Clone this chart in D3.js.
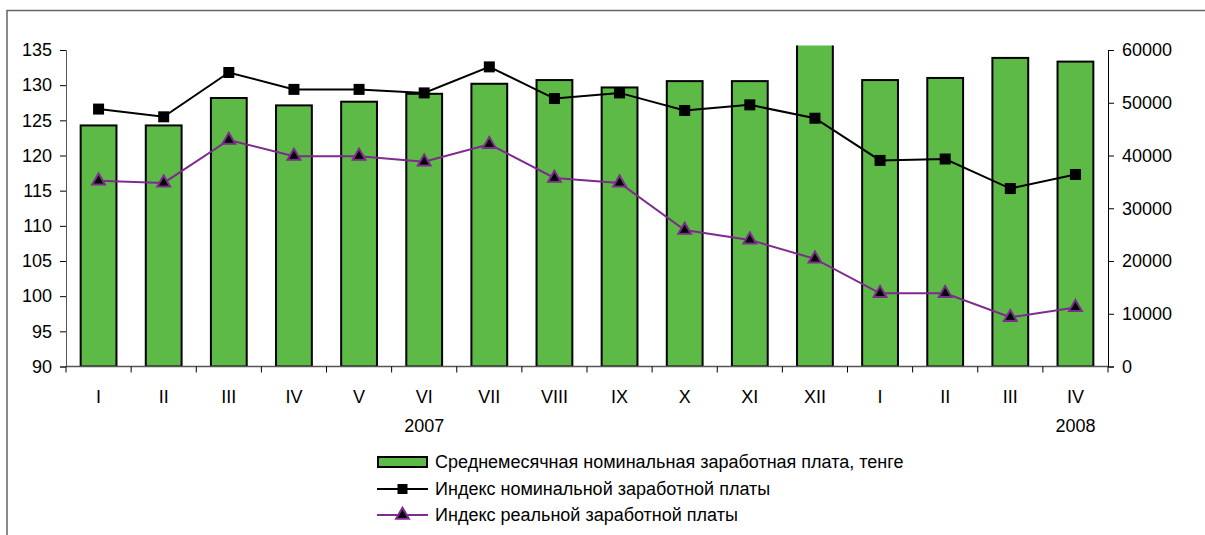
<!DOCTYPE html>
<html><head><meta charset="utf-8">
<script src="https://cdn.jsdelivr.net/npm/d3@7"></script>
<style>
html,body{margin:0;padding:0;background:#fff;}
svg{display:block;font-family:"Liberation Sans",Arial,sans-serif;}
</style></head>
<body>
<svg id="c" width="1205" height="535"></svg>
<script>
const months = ["I","II","III","IV","V","VI","VII","VIII","IX","X","XI","XII","I","II","III","IV"];
const years = [{label:"2007", at:5},{label:"2008", at:15}];
const wage = [45700,45700,50900,49500,50200,51700,53600,54300,52900,54100,54100,65000,54300,54700,58500,57800];
const nominal = [126.6,125.5,131.8,129.4,129.4,128.9,132.6,128.1,128.9,126.4,127.2,125.3,119.3,119.5,115.3,117.3];
const real = [116.4,116.1,122.2,119.9,119.9,119.1,121.6,116.8,116.1,109.4,108.0,105.3,100.4,100.4,97.0,98.4];
const leftTicks = [90,95,100,105,110,115,120,125,130,135];
const rightTicks = [0,10000,20000,30000,40000,50000,60000];
const legendLabels = ["Среднемесячная номинальная заработная плата, тенге","Индекс номинальной заработной платы","Индекс реальной заработной платы"];

const GREEN="#5dba46", PURPLE="#7e2a8e";
const svg = d3.select("#c");
const L=66, R=1108, T=50, B=366.5;

// frame
svg.append("path").attr("d",`M7,535 V10.5 H1205`).attr("fill","none").attr("stroke","#666").attr("stroke-width",1.5);

const x = d3.scaleBand().domain(d3.range(months.length)).range([L,R]).paddingInner(0.45).paddingOuter(0.225);
const yL = d3.scaleLinear().domain([90,135]).range([B,T]);
const yR = d3.scaleLinear().domain([0,60000]).range([B,T]);

svg.append("defs").append("clipPath").attr("id","clip").append("rect")
  .attr("x",L).attr("y",45.5).attr("width",R-L).attr("height",B-45.5);

// bars
svg.append("g").attr("clip-path","url(#clip)").selectAll("rect").data(wage).join("rect")
  .attr("x",(d,i)=>x(i)).attr("width",x.bandwidth())
  .attr("y",d=>yR(d)).attr("height",d=>B-yR(d))
  .attr("fill",GREEN).attr("stroke","#000").attr("stroke-width",2);

// axes
const fs = "18px";
const gL = svg.append("g").attr("transform",`translate(${L},0)`)
  .call(d3.axisLeft(yL).tickValues(leftTicks).tickSize(6).tickPadding(8));
const gR = svg.append("g").attr("transform",`translate(${R},0)`)
  .call(d3.axisRight(yR).tickValues(rightTicks).tickFormat(d3.format("d")).tickSize(6).tickPadding(8));
[gL,gR].forEach(g=>{g.select(".domain").attr("stroke","#000").attr("stroke-width",1);
  g.selectAll("line").attr("stroke","#000");
  g.selectAll("text").attr("font-size",fs).attr("fill","#000").attr("font-family","Liberation Sans, Arial, sans-serif");});
gL.select(".domain").attr("stroke","#555");

// x axis with boundary ticks
const gX = svg.append("g").attr("transform",`translate(0,${B})`);
gX.append("line").attr("x1",L).attr("x2",R).attr("stroke","#555").attr("stroke-width",1.5);
const step = x.step();
gX.selectAll("line.t").data(d3.range(months.length+1)).join("line").attr("class","t")
  .attr("x1",i=>L+i*step).attr("x2",i=>L+i*step).attr("y1",0).attr("y2",6).attr("stroke","#000");
gX.selectAll("text.m").data(months).join("text").attr("class","m")
  .attr("x",(d,i)=>x(i)+x.bandwidth()/2).attr("y",36).attr("text-anchor","middle")
  .attr("font-size",fs).text(d=>d);
gX.selectAll("text.y").data(years).join("text").attr("class","y")
  .attr("x",d=>x(d.at)+x.bandwidth()/2).attr("y",65).attr("text-anchor","middle")
  .attr("font-size",fs).text(d=>d.label);

const cx = i=>x(i)+x.bandwidth()/2;
// nominal line
svg.append("path").datum(nominal).attr("fill","none").attr("stroke","#000").attr("stroke-width",2)
  .attr("d",d3.line().x((d,i)=>cx(i)).y(d=>yL(d)));
svg.append("g").selectAll("rect").data(nominal).join("rect")
  .attr("x",(d,i)=>cx(i)-5.5).attr("y",d=>yL(d)-5.5).attr("width",11).attr("height",11).attr("fill","#000");
// real line
svg.append("path").datum(real).attr("fill","none").attr("stroke",PURPLE).attr("stroke-width",2)
  .attr("d",d3.line().x((d,i)=>cx(i)).y(d=>yL(d)));
const tri = d3.symbol().type(d3.symbolTriangle).size(70);
svg.append("g").selectAll("path").data(real).join("path")
  .attr("transform",(d,i)=>`translate(${cx(i)},${yL(d)})`).attr("d",tri())
  .attr("fill","#000").attr("stroke",PURPLE).attr("stroke-width",2);

// legend
const lg = svg.append("g");
const ly = [462,489,515];
lg.append("rect").attr("x",378).attr("y",ly[0]-5).attr("width",49).attr("height",10)
  .attr("fill",GREEN).attr("stroke","#000").attr("stroke-width",2);
lg.append("line").attr("x1",377).attr("x2",428).attr("y1",ly[1]).attr("y2",ly[1]).attr("stroke","#000").attr("stroke-width",2);
lg.append("rect").attr("x",397.5).attr("y",ly[1]-5).attr("width",10).attr("height",10).attr("fill","#000");
lg.append("line").attr("x1",377).attr("x2",428).attr("y1",ly[2]).attr("y2",ly[2]).attr("stroke",PURPLE).attr("stroke-width",2);
lg.append("path").attr("transform",`translate(402.5,${ly[2]})`).attr("d",tri()).attr("fill","#000").attr("stroke",PURPLE).attr("stroke-width",2);
lg.selectAll("text").data(legendLabels).join("text")
  .attr("x",435).attr("y",(d,i)=>ly[i]).attr("dy","0.35em").attr("font-size",fs).text(d=>d);
</script>
</body></html>
